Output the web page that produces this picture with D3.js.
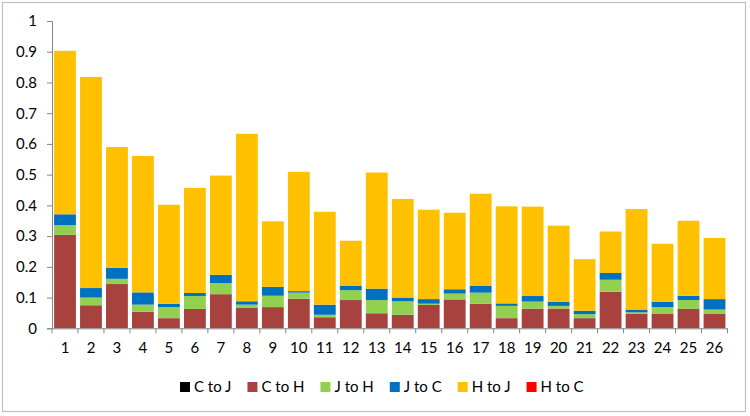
<!DOCTYPE html>
<html><head><meta charset="utf-8">
<script src="https://cdn.jsdelivr.net/npm/d3@7"></script>
<style>
html,body{margin:0;padding:0;background:#fff;}
svg text{font-family:Lato,"Open Sans",sans-serif;fill:#000;}
</style></head>
<body>
<svg id="chart" width="750" height="416"></svg>
<script>
const categories = ["1","2","3","4","5","6","7","8","9","10","11","12","13","14","15","16","17","18","19","20","21","22","23","24","25","26"];
const seriesNames = ["C to J","C to H","J to H","J to C","H to J","H to C"];
const seriesColors = ["#000000","#A8423F","#92D050","#0070C0","#FFC000","#FF0000"];
const cToJ = categories.map(() => 0);
const cToH = [0.304,0.075,0.144,0.054,0.033,0.063,0.111,0.066,0.069,0.096,0.036,0.092,0.049,0.044,0.076,0.094,0.080,0.033,0.064,0.064,0.033,0.119,0.048,0.048,0.063,0.048];
const jToH = [0.032,0.025,0.017,0.023,0.036,0.042,0.036,0.011,0.037,0.020,0.008,0.032,0.043,0.044,0.004,0.019,0.036,0.040,0.023,0.009,0.013,0.039,0.004,0.021,0.029,0.013];
const jToC = [0.035,0.031,0.036,0.040,0.011,0.010,0.027,0.011,0.029,0.005,0.033,0.015,0.037,0.012,0.015,0.014,0.023,0.008,0.018,0.013,0.011,0.022,0.009,0.017,0.014,0.034];
const hToJ = [0.532,0.687,0.393,0.444,0.322,0.342,0.323,0.545,0.213,0.388,0.302,0.146,0.378,0.321,0.291,0.249,0.299,0.316,0.291,0.248,0.168,0.135,0.327,0.189,0.244,0.199];
const hToC = categories.map(() => 0);
const yTicks = [0,0.1,0.2,0.3,0.4,0.5,0.6,0.7,0.8,0.9,1];

(function(){
const seriesValues = [cToJ,cToH,jToH,jToC,hToJ,hToC];
const rows = categories.map((c,i) => {
  const r = {cat:c};
  seriesNames.forEach((n,k) => r[n] = seriesValues[k][i]);
  return r;
});

const svg = d3.select("#chart");
svg.append("rect").attr("x",2.5).attr("y",2.5).attr("width",743).attr("height",409)
  .attr("fill","#fff").attr("stroke","#BFBFBF").attr("stroke-width",1.2);

const pl = 52, pr = 727.5, pt = 21, pb = 328.3;
const x = d3.scaleBand().domain(categories).range([pl,pr]).paddingInner(0.16).paddingOuter(0.08);
const xb = d3.scaleBand().domain(categories).range([pl,pr]);
const y = d3.scaleLinear().domain([0,1]).range([pb,pt]);

const stacked = d3.stack().keys(seriesNames)(rows);

svg.append("g").selectAll("g").data(stacked).join("g")
  .attr("fill",(d,i) => seriesColors[i])
  .selectAll("rect").data(d => d).join("rect")
  .attr("x",d => x(d.data.cat))
  .attr("width",x.bandwidth())
  .attr("y",d => y(d[1]))
  .attr("height",d => Math.max(0,y(d[0]) - y(d[1])));

const yAxis = svg.append("g").attr("transform",`translate(${pl},0)`)
  .call(d3.axisLeft(y).tickValues(yTicks).tickFormat(d3.format("")).tickSize(5).tickPadding(10));
yAxis.select(".domain").attr("stroke","#868686");
yAxis.selectAll(".tick line").attr("stroke","#868686");
yAxis.selectAll("text").attr("font-size","15px").attr("font-family","Lato,sans-serif");

const xAxis = svg.append("g").attr("transform",`translate(0,${pb})`)
  .call(d3.axisBottom(xb).tickSize(0).tickPadding(14));
xAxis.select(".domain").attr("stroke","#868686");
xAxis.selectAll("text").attr("font-size","15px").attr("font-family","Lato,sans-serif");
const bounds = categories.map(c => xb(c)).concat([pr]);
svg.append("g").selectAll("line").data(bounds).join("line")
  .attr("x1",d => d).attr("x2",d => d)
  .attr("y1",pb).attr("y2",pb + 5)
  .attr("stroke","#868686");

const legend = svg.append("g").attr("transform","translate(180,387)");
let lx = 0;
seriesNames.forEach((n,i) => {
  const g = legend.append("g").attr("transform",`translate(${lx},0)`);
  g.append("rect").attr("x",0).attr("y",-5).attr("width",10).attr("height",10).attr("fill",seriesColors[i]);
  const t = g.append("text").attr("x",14).attr("y",0).attr("dy","0.35em")
    .attr("font-size","15px").text(n);
  lx += 14 + t.node().getComputedTextLength() + 16;
});
})();
</script>
</body></html>
